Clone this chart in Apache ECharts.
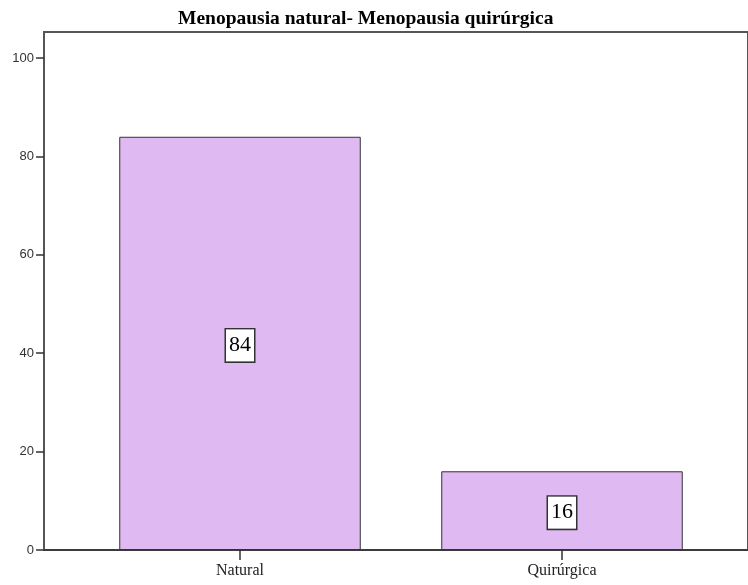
<!DOCTYPE html>
<html style="height: 100%">
<head>
    <meta charset="utf-8">
</head>
<body style="height: 100%; margin: 0; background: #fff">
    <div id="container" style="width: 748px; height: 585px"></div>
    <script type="text/javascript" src="https://cdn.jsdelivr.net/npm/echarts@6/dist/echarts.min.js"></script>
    <script type="text/javascript">
        var titleText = 'Menopausia natural- Menopausia quirúrgica';
        var categories = ['Natural', 'Quirúrgica'];
        var values = [84, 16];
        var yTicks = [0, 20, 40, 60, 80, 100];
        var yMax = 105.3;

        var myChart = echarts.init(document.getElementById('container'));
        var option = {
            backgroundColor: '#fff',
            animation: false,
            title: {
                text: titleText,
                left: 173,
                top: 4,
                textStyle: {
                    fontFamily: 'Liberation Serif',
                    fontWeight: 'bold',
                    fontSize: 19.5,
                    color: '#000'
                }
            },
            grid: [
                // frame with the y axis and the baseline (right edge pushed off-canvas)
                { left: 44, width: 730, top: 32, bottom: 35, show: true, borderColor: '#555', borderWidth: 2 },
                // band area for the bars
                { left: 79, width: 644, top: 32, bottom: 35 }
            ],
            xAxis: [
                {
                    gridIndex: 0,
                    type: 'value',
                    min: 0,
                    max: 1,
                    axisLine: { show: true, lineStyle: { color: '#333', width: 1.5 } },
                    axisTick: { show: false },
                    axisLabel: { show: false },
                    splitLine: { show: false }
                },
                {
                    gridIndex: 1,
                    type: 'category',
                    data: categories,
                    axisLine: { show: false },
                    axisTick: { show: true, alignWithLabel: true, length: 10, lineStyle: { color: '#333', width: 1.5 } },
                    axisLabel: { fontFamily: 'Liberation Serif', fontSize: 16, color: '#222', margin: 13 }
                }
            ],
            yAxis: [
                {
                    gridIndex: 0,
                    type: 'value',
                    min: 0,
                    max: yMax,
                    axisLine: { show: true, lineStyle: { color: '#555', width: 2 } },
                    axisTick: { show: true, length: 8, customValues: yTicks, lineStyle: { color: '#333', width: 1.5 } },
                    axisLabel: { customValues: yTicks, fontFamily: 'Liberation Sans', fontSize: 13, color: '#333', margin: 10 },
                    splitLine: { show: false }
                },
                {
                    gridIndex: 1,
                    type: 'value',
                    min: 0,
                    max: yMax,
                    show: false,
                    splitLine: { show: false }
                }
            ],
            series: [
                {
                    type: 'bar',
                    xAxisIndex: 1,
                    yAxisIndex: 1,
                    data: values,
                    barWidth: '75%',
                    itemStyle: { color: '#dfb9f2', borderColor: '#333', borderWidth: 1 },
                    label: {
                        show: true,
                        position: 'inside',
                        offset: [0, 2],
                        fontFamily: 'Liberation Serif',
                        fontSize: 22,
                        color: '#000',
                        backgroundColor: '#fff',
                        borderColor: '#333',
                        borderWidth: 1.5,
                        padding: [6, 3, 4, 3]
                    }
                }
            ]
        };
        myChart.setOption(option);
    </script>
</body>
</html>
